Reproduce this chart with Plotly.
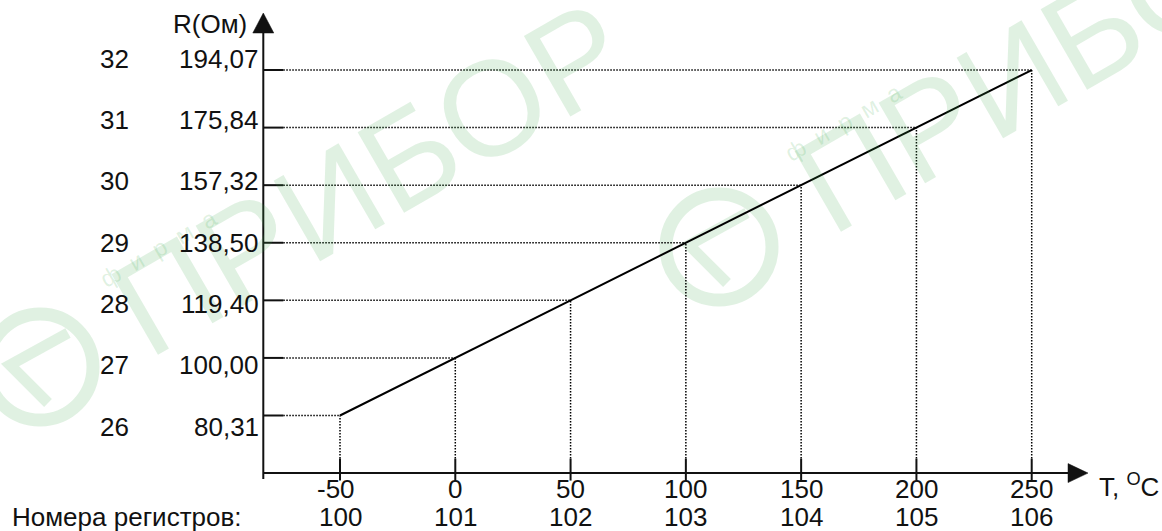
import plotly.graph_objects as go

# Calibration table: temperature, resistance and the register numbers
temps = [-50, 0, 50, 100, 150, 200, 250]
resistance = [80.31, 100.00, 119.40, 138.50, 157.32, 175.84, 194.07]
res_registers = [26, 27, 28, 29, 30, 31, 32]
temp_registers = [100, 101, 102, 103, 104, 105, 106]

res_labels = [f"{v:.2f}".replace(".", ",") for v in resistance]
levels = list(range(len(res_labels)))  # serial positions on the category axis

W, H = 1162, 531
PX_DEG = 2.3057          # pixels per degree on the T axis
PX_STEP = 57.58          # pixels between neighbouring resistance levels
ORIGIN_PX = (340, 415.5) # pixel position of the first table point
FONT = "Liberation Sans, Arial, sans-serif"
INK = "#111111"
WM = "rgba(60,170,75,0.16)"


def to_x(px):
    return temps[0] + (px - ORIGIN_PX[0]) / PX_DEG


def to_y(py):
    return levels[0] + (ORIGIN_PX[1] - py) / PX_STEP


def dx(px):
    return px / PX_DEG


def dy(px):
    return px / PX_STEP


AXIS_X = to_x(263.3)
AXIS_Y = levels[0] - 1
Y_TIP = to_y(13)
X_TIP = to_x(1088)
ARROW = 20
TICK = 20
DOT = dict(color="black", width=1.5, dash="1.5px,1.5px")

fig = go.Figure()
fig.add_trace(go.Scatter(x=temps, y=res_labels, mode="lines",
                         line=dict(color="black", width=2),
                         hoverinfo="skip", showlegend=False))

shapes = []
annotations = []

# watermark logos (two copies, drawn beneath everything)
for cx, cy, tx, ty, fx, fy in [(40, 367, 370, 178, 158, 248),
                               (719, 247, 1053, 55, 843, 122)]:
    r = 53
    shapes.append(dict(type="circle", xref="x", yref="y", layer="below",
                       x0=to_x(cx - r), x1=to_x(cx + r),
                       y0=to_y(cy + r), y1=to_y(cy - r),
                       line=dict(color=WM, width=13)))
    shapes.append(dict(type="path", xref="x", yref="y", layer="below",
                       path=(f"M {to_x(cx + 28)},{to_y(cy - 34)} "
                             f"L {to_x(cx - 30)},{to_y(cy - 2)} "
                             f"L {to_x(cx + 8)},{to_y(cy + 36)}"),
                       line=dict(color=WM, width=11)))
    annotations.append(dict(x=to_x(tx), y=to_y(ty), xref="x", yref="y",
                            text="ПРИБОР", showarrow=False, textangle=-30,
                            font=dict(family=FONT, size=135, color=WM)))
    annotations.append(dict(x=to_x(fx), y=to_y(fy), xref="x", yref="y",
                            text="ф  и  р  м  а", showarrow=False, textangle=-30,
                            font=dict(family=FONT, size=24, color=WM)))

# axes with arrow heads
shapes.append(dict(type="line", xref="x", yref="y", x0=AXIS_X, x1=AXIS_X,
                   y0=to_y(479), y1=Y_TIP - dy(ARROW) + dy(1),
                   line=dict(color=INK, width=2)))
shapes.append(dict(type="path", xref="x", yref="y", fillcolor=INK,
                   line=dict(color=INK, width=0.5),
                   path=(f"M {AXIS_X - dx(10.5)},{Y_TIP - dy(ARROW)} "
                         f"L {AXIS_X + dx(10.5)},{Y_TIP - dy(ARROW)} "
                         f"L {AXIS_X},{Y_TIP} Z")))
shapes.append(dict(type="line", xref="x", yref="y", x0=AXIS_X,
                   x1=X_TIP - dx(ARROW) + dx(1), y0=AXIS_Y, y1=AXIS_Y,
                   line=dict(color=INK, width=2)))
shapes.append(dict(type="path", xref="x", yref="y", fillcolor=INK,
                   line=dict(color=INK, width=0.5),
                   path=(f"M {X_TIP - dx(ARROW)},{AXIS_Y + dy(9.5)} "
                         f"L {X_TIP - dx(ARROW)},{AXIS_Y - dy(9.5)} "
                         f"L {X_TIP},{AXIS_Y} Z")))

# resistance levels: tick and dotted guide to the curve
for t, lv in zip(temps, levels):
    shapes.append(dict(type="line", xref="x", yref="y", x0=AXIS_X,
                       x1=AXIS_X + dx(TICK), y0=lv, y1=lv,
                       line=dict(color=INK, width=2)))
    shapes.append(dict(type="line", xref="x", yref="y", x0=AXIS_X + dx(TICK),
                       x1=t, y0=lv, y1=lv, line=DOT))
    # temperature ticks crossing the T axis and dotted drop lines
    shapes.append(dict(type="line", xref="x", yref="y", x0=t, x1=t,
                       y0=AXIS_Y - dy(7.5), y1=AXIS_Y + dy(14.5),
                       line=dict(color=INK, width=2)))
    shapes.append(dict(type="line", xref="x", yref="y", x0=t, x1=t,
                       y0=AXIS_Y + dy(14.5), y1=lv, line=DOT))

txt = dict(family=FONT, size=26, color=INK)
mid = (levels[0] + levels[-1]) / 2
LABEL_SPREAD = 61.3 / 57.58

for lv, lab, reg in zip(levels, res_labels, res_registers):
    ly = mid + (lv - mid) * LABEL_SPREAD
    annotations.append(dict(x=AXIS_X - dx(2.5), y=ly, xref="x", yref="y",
                            text=lab, showarrow=False, xanchor="right",
                            yanchor="middle", font=txt))
    annotations.append(dict(x=to_x(114), y=ly, xref="x", yref="y",
                            text=str(reg), showarrow=False, xanchor="center",
                            yanchor="middle", font=txt))

for t, reg in zip(temps, temp_registers):
    label = str(t)
    annotations.append(dict(x=t, y=to_y(489), xref="x", yref="y",
                            text=label, showarrow=False, xanchor="center",
                            yanchor="middle", font=txt,
                            xshift=-4 if t < 0 else 0))
    annotations.append(dict(x=t, y=to_y(516.5), xref="x", yref="y",
                            text=str(reg), showarrow=False, xanchor="center",
                            yanchor="middle", font=txt))

annotations.append(dict(x=to_x(249), y=to_y(24), xref="x", yref="y",
                        text="R(Ом)", showarrow=False, xanchor="right",
                        yanchor="middle", font=txt))
annotations.append(dict(x=to_x(1097), y=to_y(485), xref="x", yref="y",
                        text="T, <sup>O</sup>C", showarrow=False, xanchor="left",
                        yanchor="middle", font=txt))
annotations.append(dict(x=to_x(10), y=to_y(516.5), xref="x", yref="y",
                        text="Номера регистров:", showarrow=False,
                        xanchor="left", yanchor="middle", font=txt))

fig.update_layout(
    width=W, height=H, autosize=False,
    margin=dict(l=0, r=0, t=0, b=0),
    paper_bgcolor="white", plot_bgcolor="white",
    xaxis=dict(range=[to_x(0), to_x(W)], visible=False, fixedrange=True),
    yaxis=dict(type="category", categoryorder="array", categoryarray=res_labels,
               range=[to_y(H), to_y(0)], visible=False, fixedrange=True),
    shapes=shapes, annotations=annotations, showlegend=False,
)

fig.write_html("out.html", config=dict(displayModeBar=False))
